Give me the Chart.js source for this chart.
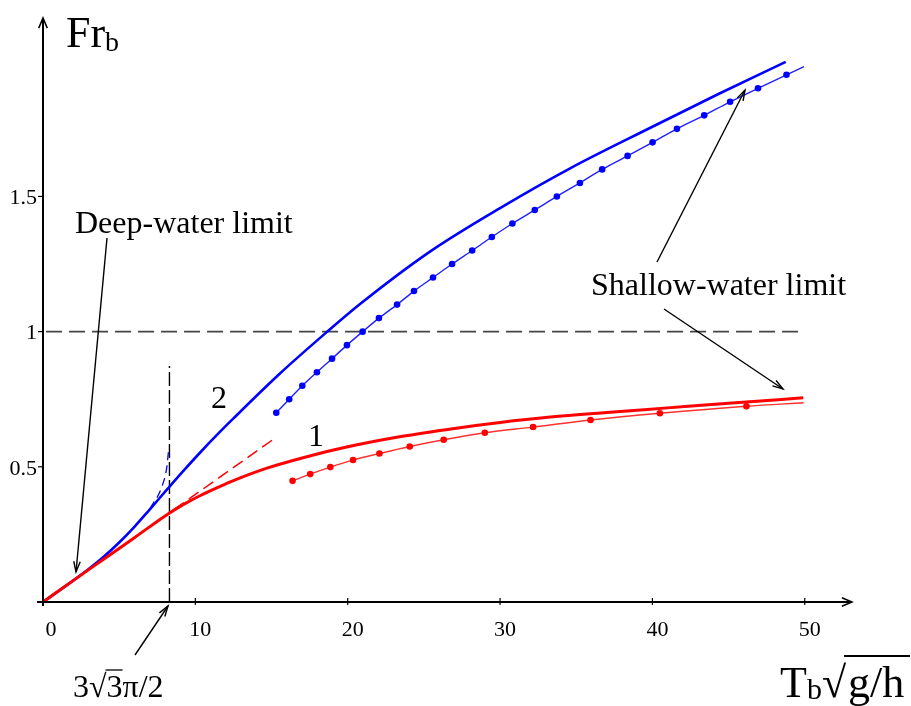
<!DOCTYPE html>
<html>
<head>
<meta charset="utf-8">
<script src="https://cdn.jsdelivr.net/npm/chart.js@4"></script>
<style>
  body { margin: 0; background: #fff; }
  canvas { display: block; }
</style>
</head>
<body>
<canvas id="chart" width="911" height="706"></canvas>
<script>
// curve 1 (red) and curve 2 (blue)
const redX = [0, 2, 4, 6, 8.16, 9.2, 10.3, 11.6, 12.5, 14.7, 17.5, 20, 23.5, 27, 30, 33.3, 37, 41, 45, 49.9];
const redY = [0, 0.08, 0.159, 0.238, 0.324, 0.36, 0.393, 0.427, 0.449, 0.495, 0.54, 0.574, 0.612, 0.642, 0.664, 0.684, 0.701, 0.718, 0.735, 0.755];

const redDotX = [16.38, 17.54, 18.86, 20.35, 22.08, 24.07, 26.3, 29.0, 32.17, 35.94, 40.49, 46.17, 49.93];
const redDotY = [0.448, 0.473, 0.499, 0.525, 0.549, 0.575, 0.600, 0.626, 0.647, 0.673, 0.698, 0.724, 0.737];

const blueX = [0, 2, 3, 4, 5, 6, 7, 8.2, 9.2, 10.3, 11.4, 12.5, 15.57, 18.66, 20.83, 25.4, 30, 34.6, 39.9, 44.3, 48.75];
const blueY = [0, 0.08, 0.122, 0.168, 0.22, 0.278, 0.342, 0.42, 0.484, 0.552, 0.617, 0.679, 0.846, 1.0, 1.103, 1.296, 1.457, 1.604, 1.755, 1.878, 1.998];

const blueDotX = [15.31, 16.16, 17.02, 17.98, 18.97, 19.95, 20.98, 22.05, 23.24, 24.35, 25.6, 26.85, 28.17, 29.46, 30.81, 32.28, 33.73, 35.24, 36.7, 38.37, 40.01, 41.61, 43.4, 45.1, 46.93, 48.8, 49.95];
const blueDotY = [0.70, 0.75, 0.80, 0.85, 0.90, 0.95, 1.0, 1.05, 1.10, 1.15, 1.20, 1.25, 1.30, 1.35, 1.40, 1.45, 1.50, 1.55, 1.60, 1.65, 1.70, 1.75, 1.80, 1.85, 1.90, 1.95, 1.98];

// dashed asymptotes
const blueDashX = [7.03, 7.8, 8.13, 8.23];
const blueDashY = [0.346, 0.426, 0.5, 0.555];
const redDashX = [8.6, 15.05];
const redDashY = [0.342, 0.599];

// reference lines
const oneX = [0.2, 50];
const oneY = [1, 1];
const critX = [8.3, 8.3];
const critY = [0, 0.873];

const xTicks = [10, 20, 30, 40, 50];
const yTicks = [0.5, 1, 1.5];
const yTickLabels = ["0.5", "1", "1.5"];

const pts = (xs, ys) => xs.map((x, i) => ({ x: x, y: ys[i] }));
const SERIF = "'Liberation Serif', 'DejaVu Serif', serif";

function arrowHead(ctx, x1, y1, x2, y2, len, ang) {
  const a = Math.atan2(y2 - y1, x2 - x1);
  ctx.beginPath();
  ctx.moveTo(x2 - len * Math.cos(a - ang), y2 - len * Math.sin(a - ang));
  ctx.lineTo(x2, y2);
  ctx.lineTo(x2 - len * Math.cos(a + ang), y2 - len * Math.sin(a + ang));
  ctx.stroke();
}

function arrow(ctx, x1, y1, x2, y2) {
  ctx.beginPath();
  ctx.moveTo(x1, y1);
  ctx.lineTo(x2, y2);
  ctx.stroke();
  arrowHead(ctx, x1, y1, x2, y2, 11, 0.3);
}

const decor = {
  id: "decor",
  afterDatasetsDraw(chart) {
    const ctx = chart.ctx;
    const xs = chart.scales.x, ys = chart.scales.y;
    const x0 = xs.getPixelForValue(0), y0 = ys.getPixelForValue(0);
    const xEnd = chart.chartArea.right, yTop = chart.chartArea.top;
    ctx.save();
    ctx.strokeStyle = "#000";
    ctx.fillStyle = "#000";
    ctx.setLineDash([]);

    // axes
    ctx.lineWidth = 2;
    ctx.beginPath();
    ctx.moveTo(x0 - 6, y0);
    ctx.lineTo(xEnd, y0);
    ctx.moveTo(x0, y0 + 4);
    ctx.lineTo(x0, yTop);
    ctx.stroke();
    ctx.lineWidth = 1.5;
    arrowHead(ctx, x0, y0, xEnd, y0, 11, 0.4);
    arrowHead(ctx, x0, y0, x0, yTop, 11, 0.4);

    // ticks and tick labels
    ctx.lineWidth = 1.2;
    ctx.font = "22px " + SERIF;
    ctx.textAlign = "center";
    ctx.textBaseline = "alphabetic";
    xTicks.forEach(v => {
      const px = xs.getPixelForValue(v);
      ctx.beginPath();
      ctx.moveTo(px, y0 - 4);
      ctx.lineTo(px, y0 + 3);
      ctx.stroke();
      ctx.fillText(String(v), px + 5, 636);
    });
    ctx.fillText("0", x0 + 8, 636);
    ctx.textAlign = "right";
    ctx.textBaseline = "middle";
    yTicks.forEach((v, i) => {
      const py = ys.getPixelForValue(v);
      ctx.beginPath();
      ctx.moveTo(x0 - 5, py);
      ctx.lineTo(x0, py);
      ctx.stroke();
      ctx.fillText(yTickLabels[i], x0 - 6, py + 2);
    });

    // axis titles
    ctx.textAlign = "left";
    ctx.textBaseline = "alphabetic";
    ctx.font = "44px " + SERIF;
    ctx.fillText("Fr", 66, 47);
    let w = ctx.measureText("Fr").width;
    ctx.font = "28px " + SERIF;
    ctx.fillText("b", 66 + w, 51);

    ctx.font = "44px " + SERIF;
    ctx.fillText("T", 780, 697);
    w = ctx.measureText("T").width;
    ctx.font = "30px " + SERIF;
    ctx.fillText("b", 780 + w, 699);
    const wb = ctx.measureText("b").width;
    ctx.font = "44px " + SERIF;
    const sx = 780 + w + wb;
    ctx.fillText("\u221A", sx, 697);
    const ws = ctx.measureText("\u221A").width;
    ctx.fillText("g/h", sx + ws + 2, 697);
    ctx.lineWidth = 1.8;
    ctx.beginPath();
    ctx.moveTo(sx + ws - 2, 656);
    ctx.lineTo(910, 656);
    ctx.stroke();

    // annotations
    ctx.font = "32px " + SERIF;
    ctx.fillText("Deep-water limit", 75, 233);
    ctx.fillText("Shallow-water limit", 591, 295);
    ctx.fillText("2", 211, 408);
    ctx.fillText("1", 308, 446);

    ctx.font = "32px " + SERIF;
    ctx.fillText("3\u221A3\u03C0/2", 73, 697);
    const a = ctx.measureText("3\u221A").width;
    const b = ctx.measureText("3\u221A3").width;
    ctx.lineWidth = 1.3;
    ctx.beginPath();
    ctx.moveTo(73 + a - 1, 670);
    ctx.lineTo(73 + b, 670);
    ctx.stroke();

    ctx.lineWidth = 1.4;
    arrow(ctx, 107, 238, 76, 572);
    arrow(ctx, 135, 655, 168, 606);
    arrow(ctx, 657, 262, 745, 90);
    arrow(ctx, 664, 309, 783, 389);
    ctx.restore();
  }
};

new Chart(document.getElementById("chart"), {
  type: "scatter",
  data: {
    datasets: [
      { data: pts(redX, redY), borderColor: "#ff0000", borderWidth: 3, pointRadius: 0, cubicInterpolationMode: "monotone" },
      { data: pts(blueX, blueY), borderColor: "#0000ff", borderWidth: 2.6, pointRadius: 0, cubicInterpolationMode: "monotone" },
      { data: pts(redDotX, redDotY), borderColor: "#ff3030", borderWidth: 1.4,
        pointRadius: redDotX.map((v, i) => i === redDotX.length - 1 ? 0 : 3.3),
        pointBackgroundColor: "#ff0000", pointBorderWidth: 0, cubicInterpolationMode: "monotone" },
      { data: pts(blueDotX, blueDotY), borderColor: "#2020ff", borderWidth: 1.4,
        pointRadius: blueDotX.map((v, i) => i === blueDotX.length - 1 ? 0 : 3.3),
        pointBackgroundColor: "#0000ff", pointBorderWidth: 0, cubicInterpolationMode: "monotone" },
      { data: pts(blueDashX, blueDashY), borderColor: "#0000ff", borderWidth: 1.3, borderDash: [8, 5], pointRadius: 0, cubicInterpolationMode: "monotone" },
      { data: pts(redDashX, redDashY), borderColor: "#ff0000", borderWidth: 1.5, borderDash: [12, 6], pointRadius: 0 },
      { data: pts(oneX, oneY), borderColor: "#444", borderWidth: 1.6, borderDash: [16, 7], pointRadius: 0 },
      { data: pts(critX, critY), borderColor: "#000", borderWidth: 1.4, borderDash: [14, 4], pointRadius: 0 }
    ].map(d => Object.assign({ showLine: true, fill: false }, d))
  },
  options: {
    responsive: false,
    animation: false,
    layout: { padding: { left: 43, right: 59, top: 18, bottom: 104 } },
    plugins: { legend: { display: false }, tooltip: { enabled: false } },
    scales: {
      x: { type: "linear", min: 0, max: 53.1, display: false },
      y: { type: "linear", min: 0, max: 2.16, display: false }
    }
  },
  plugins: [decor]
});
</script>
</body>
</html>
